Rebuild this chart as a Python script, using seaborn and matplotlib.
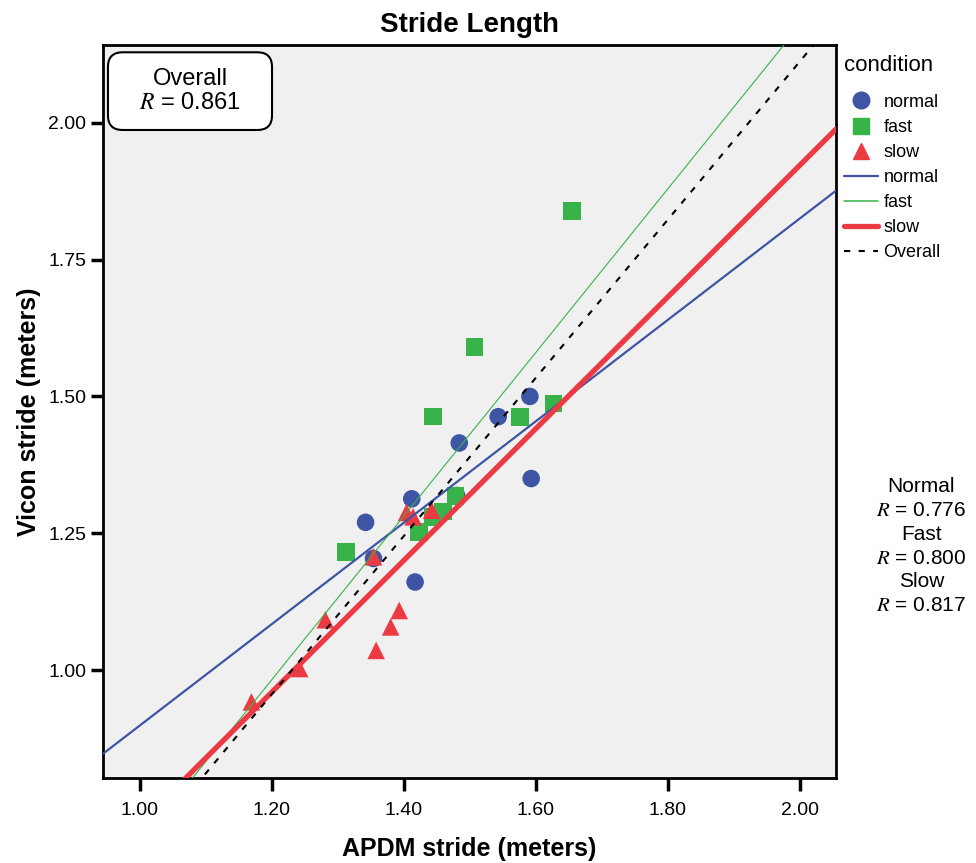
import numpy as np
import pandas as pd
import seaborn as sns
import matplotlib.pyplot as plt
from matplotlib.lines import Line2D
from matplotlib.patches import FancyBboxPatch

# APDM vs Vicon stride length
normal_apdm = [1.342, 1.354, 1.412, 1.417, 1.480, 1.484, 1.543, 1.591, 1.593]
normal_vicon = [1.270, 1.204, 1.313, 1.161, 1.319, 1.415, 1.463, 1.500, 1.350]

fast_apdm = [1.312, 1.423, 1.444, 1.459, 1.478, 1.444, 1.507, 1.576, 1.627, 1.655]
fast_vicon = [1.216, 1.252, 1.280, 1.290, 1.318, 1.463, 1.590, 1.462, 1.487, 1.839]

slow_apdm = [1.169, 1.242, 1.281, 1.354, 1.358, 1.380, 1.393, 1.404, 1.414, 1.442]
slow_vicon = [0.942, 1.003, 1.092, 1.207, 1.036, 1.079, 1.109, 1.288, 1.280, 1.292]

conditions = ['normal', 'fast', 'slow']
r_overall = 0.861
r_by_cond = {'Normal': 0.776, 'Fast': 0.800, 'Slow': 0.817}

x_ticks = [1.00, 1.20, 1.40, 1.60, 1.80, 2.00]
y_ticks = [1.00, 1.25, 1.50, 1.75, 2.00]

df = pd.DataFrame({
    'apdm': normal_apdm + fast_apdm + slow_apdm,
    'vicon': normal_vicon + fast_vicon + slow_vicon,
    'condition': ['normal'] * len(normal_apdm) + ['fast'] * len(fast_apdm) + ['slow'] * len(slow_apdm),
})

colors = {'normal': '#3e55a5', 'fast': '#37b34a', 'slow': '#ec3a43'}
markers = {'normal': 'o', 'fast': 's', 'slow': '^'}
line_w = {'normal': 1.6, 'fast': 0.8, 'slow': 3.8}

sns.set_style('white')
plt.rcParams['font.family'] = ['Liberation Sans', 'DejaVu Sans']
plt.rcParams['mathtext.fontset'] = 'stix'
plt.rcParams['text.color'] = 'black'
plt.rcParams['axes.labelcolor'] = 'black'
plt.rcParams['xtick.color'] = 'black'
plt.rcParams['ytick.color'] = 'black'

fig = plt.figure(figsize=(9.76, 8.63), dpi=100)
ax = fig.add_axes([0.1055, 0.0985, 0.7511, 0.8494])
ax.set_facecolor('#f0f0f0')

xlim = (0.944, 2.055)
ylim = (0.803, 2.142)
ax.set_xlim(xlim)
ax.set_ylim(ylim)

sns.scatterplot(data=df, x='apdm', y='vicon', hue='condition', style='condition',
                palette=colors, markers=markers, hue_order=conditions,
                style_order=conditions, s=160, linewidth=0, legend=False, ax=ax,
                zorder=3)

# fit lines per condition and overall, spanning the whole x range
for c in conditions:
    sub = df[df.condition == c]
    sns.regplot(data=sub, x='apdm', y='vicon', scatter=False, ci=None, truncate=False,
                line_kws={'color': colors[c], 'lw': line_w[c], 'zorder': 4}, ax=ax)
sns.regplot(data=df, x='apdm', y='vicon', scatter=False, ci=None, truncate=False,
            line_kws={'color': 'black', 'lw': 1.5, 'ls': (0, (3, 4)), 'zorder': 5}, ax=ax)

ax.set_xlim(xlim)
ax.set_ylim(ylim)
ax.set_xticks(x_ticks)
ax.set_yticks(y_ticks)
ax.set_xticklabels(['%.2f' % v for v in x_ticks])
ax.set_yticklabels(['%.2f' % v for v in y_ticks])
ax.tick_params(direction='out', length=9, width=2.5, labelsize=14, bottom=True, left=True)
ax.tick_params(axis='x', pad=8)
ax.tick_params(axis='y', pad=3)
for sp in ax.spines.values():
    sp.set_color('black')
    sp.set_linewidth(2)

ax.set_xlabel('APDM stride (meters)', fontsize=18, fontweight='bold', labelpad=13)
ax.set_ylabel('Vicon stride (meters)', fontsize=18, fontweight='bold', labelpad=5)
ax.set_title('Stride Length', fontsize=20, fontweight='bold', pad=9)

box = FancyBboxPatch((0.0068, 0.884), 0.2238, 0.106, transform=ax.transAxes,
                     boxstyle='round,pad=0,rounding_size=0.02', fc='white', ec='black',
                     lw=1.5, zorder=6)
ax.add_patch(box)
ax.text(0.119, 0.937, 'Overall\n$R$ = %.3f' % r_overall, transform=ax.transAxes,
        ha='center', va='center', fontsize=17, linespacing=1.15, zorder=7)

side = '\n'.join('%s\n$R$ = %.3f' % (k, v) for k, v in r_by_cond.items())
fig.text(0.944, 0.367, side, ha='center', va='center', fontsize=15, linespacing=1.32)

handles = [Line2D([], [], ls='none', marker=markers[c], color=colors[c], markersize=12) for c in conditions]
handles += [Line2D([], [], color=colors[c], lw=max(line_w[c], 1.1)) for c in conditions]
handles += [Line2D([], [], color='black', lw=1.5, ls=(0, (3, 4)))]
labels = conditions + conditions + ['Overall']
leg = fig.legend(handles, labels, title='condition', loc='upper left',
                 bbox_to_anchor=(0.857, 0.945), frameon=False, fontsize=13,
                 title_fontsize=16, handlelength=1.9, handletextpad=0.3,
                 labelspacing=0.45, borderaxespad=0, borderpad=0.4)
leg._legend_box.align = 'left'
leg._legend_box.sep = 13

fig.savefig('out.png', dpi=100)
